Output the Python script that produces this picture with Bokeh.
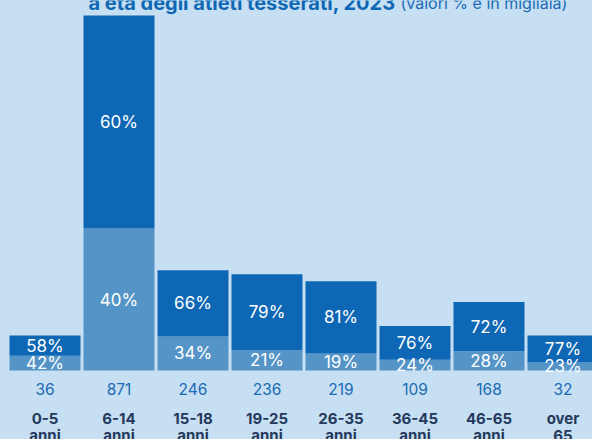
from bokeh.plotting import figure
from bokeh.models import ColumnDataSource, GlobalInlineStyleSheet, Range1d
from bokeh.core.properties import value
from bokeh.embed import file_html
from bokeh.resources import INLINE

# ---- data ----
categories = ["0-5\nanni", "6-14\nanni", "15-18\nanni", "19-25\nanni",
              "26-35\nanni", "36-45\nanni", "46-65\nanni", "over\n65"]
totals = [36, 871, 246, 236, 219, 109, 168, 32]          # migliaia
pct_top = [58, 60, 66, 79, 81, 76, 72, 77]                # dark segment
pct_bottom = [42, 40, 34, 21, 19, 24, 28, 23]             # light segment

# ---- style ----
BG = "#c6dff2"
DARK = "#0e67b4"
LIGHT = "#5594c6"
NUM = "#1b6bb5"
CAT = "#24395c"
MIN_DISPLAY = 86   # minimum drawn height so labels fit

W, H = 592, 439
n = len(totals)
xs = list(range(n))
disp = [max(t, MIN_DISPLAY) for t in totals]
split = [d * b / 100 for d, b in zip(disp, pct_bottom)]

src = ColumnDataSource(dict(
    x=xs, disp=disp, split=split,
    mid_bot=[s / 2 for s in split],
    mid_top=[(s + d) / 2 for s, d in zip(split, disp)],
    lab_top=[f"{v}%" for v in pct_top],
    lab_bot=[f"{v}%" for v in pct_bottom],
    tot=[str(t) for t in totals],
    cat1=[c.split("\n")[0] for c in categories],
    cat2=[c.split("\n")[1] for c in categories],
))

# pixel geometry -> data ranges
px_per_cat = 74.0
x0 = -44.5 / px_per_cat
px_per_unit = 355.0 / 871
base_px = 370.0
y_top = base_px / px_per_unit
y_bot = -(H - base_px) / px_per_unit

p = figure(width=W, height=H, output_backend="svg", toolbar_location=None,
           x_range=Range1d(x0, x0 + W / px_per_cat),
           y_range=Range1d(y_bot, y_top),
           min_border=0, background_fill_color=BG, border_fill_color=BG,
           outline_line_color=None)
p.axis.visible = False
p.grid.visible = False

bw = 71 / px_per_cat
p.vbar(x="x", width=bw, bottom=0, top="split", source=src,
       fill_color=LIGHT, line_color=None)
p.vbar(x="x", width=bw, bottom="split", top="disp", source=src,
       fill_color=DARK, line_color=None)

font = value("Inter")
p.text(x="x", y="mid_top", text="lab_top", source=src, text_color="white",
       text_font=font, text_font_size="17px", text_align="center",
       text_baseline="middle")
p.text(x="x", y="mid_bot", text="lab_bot", source=src, text_color="white",
       text_font=font, text_font_size="17px", text_align="center",
       text_baseline="middle")
p.text(x="x", y=0, text="tot", source=src, text_color=NUM,
       text_font=font, text_font_size="15.5px", text_align="center",
       text_baseline="alphabetic", y_offset=18)
p.text(x="x", y=0, text="cat1", source=src, text_color=CAT,
       text_font=font, text_font_size="15px", text_font_style="bold",
       text_align="center", text_baseline="alphabetic", y_offset=48)
p.text(x="x", y=0, text="cat2", source=src, text_color=CAT,
       text_font=font, text_font_size="15px", text_font_style="bold",
       text_align="center", text_baseline="alphabetic", y_offset=65)

# partially visible title at the top edge
p.text(x=[x0 + 88 / px_per_cat], y=[y_top], text=["a età degli atleti tesserati, 2023"],
       text_color=DARK, text_font=font, text_font_size="20px",
       text_font_style="bold", text_align="left", text_baseline="alphabetic",
       y_offset=2)
p.text(x=[x0 + 400 / px_per_cat], y=[y_top], text=["(valori % e in migliaia)"],
       text_color=NUM, text_font=font, text_font_size="16px",
       text_align="left", text_baseline="alphabetic", y_offset=2)

p.stylesheets = [GlobalInlineStyleSheet(css=f"body{{margin:0;background:{BG};overflow:hidden}}")]

open("out.html", "w").write(file_html(p, INLINE))
